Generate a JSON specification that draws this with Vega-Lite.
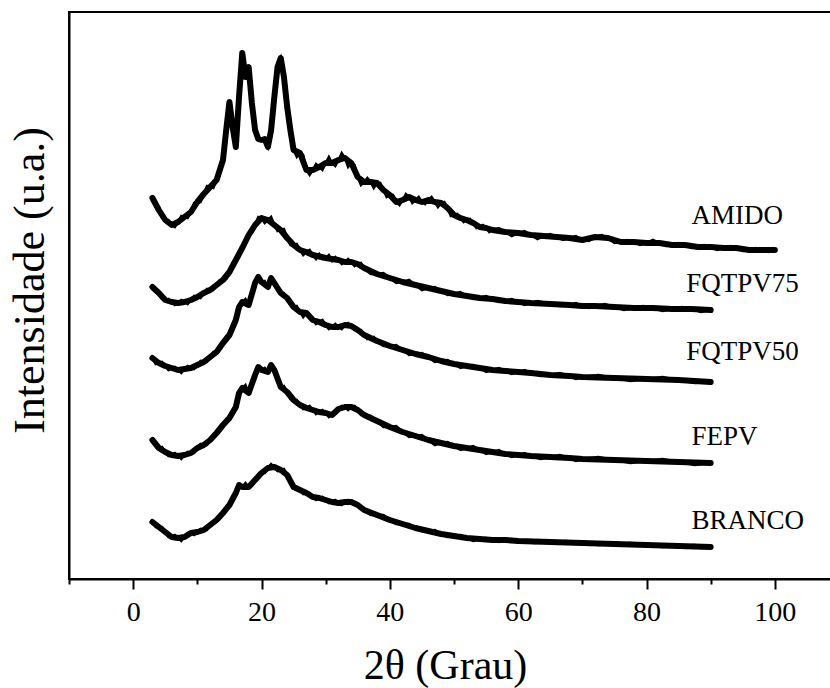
{
  "$schema": "https://vega.github.io/schema/vega-lite/v6.json",
  "width": 770,
  "height": 567,
  "autosize": {"type": "none"},
  "padding": {"left": 69, "top": 12, "right": 0, "bottom": 109},
  "background": "white",
  "config": {
    "view": {"stroke": "black", "strokeWidth": 2},
    "font": "'Liberation Serif', 'Times New Roman', serif"
  },
  "datasets": {
    "curves": [
      {"s":"AMIDO","x":3,"y":381},{"s":"AMIDO","x":4,"y":369},{"s":"AMIDO","x":5,"y":359},{"s":"AMIDO","x":6,"y":354},{"s":"AMIDO","x":7,"y":357},{"s":"AMIDO","x":8,"y":362},{"s":"AMIDO","x":9,"y":367},{"s":"AMIDO","x":10,"y":377},{"s":"AMIDO","x":11,"y":385},{"s":"AMIDO","x":12,"y":392},{"s":"AMIDO","x":13,"y":399},{"s":"AMIDO","x":14,"y":419},{"s":"AMIDO","x":14.5,"y":449},{"s":"AMIDO","x":15,"y":477},{"s":"AMIDO","x":15.5,"y":452},{"s":"AMIDO","x":16,"y":432},{"s":"AMIDO","x":16.5,"y":482},{"s":"AMIDO","x":17,"y":526},{"s":"AMIDO","x":17.5,"y":502},{"s":"AMIDO","x":18,"y":512},{"s":"AMIDO","x":18.5,"y":476},{"s":"AMIDO","x":19,"y":449},{"s":"AMIDO","x":19.5,"y":440},{"s":"AMIDO","x":20,"y":439},{"s":"AMIDO","x":20.5,"y":440},{"s":"AMIDO","x":21,"y":432},{"s":"AMIDO","x":21.5,"y":449},{"s":"AMIDO","x":22,"y":482},{"s":"AMIDO","x":22.5,"y":512},{"s":"AMIDO","x":23,"y":521},{"s":"AMIDO","x":23.5,"y":502},{"s":"AMIDO","x":24,"y":472},{"s":"AMIDO","x":24.5,"y":449},{"s":"AMIDO","x":25,"y":429},{"s":"AMIDO","x":26,"y":426},{"s":"AMIDO","x":27,"y":409},{"s":"AMIDO","x":28,"y":409},{"s":"AMIDO","x":29,"y":412},{"s":"AMIDO","x":30,"y":416},{"s":"AMIDO","x":31,"y":416},{"s":"AMIDO","x":32,"y":419},{"s":"AMIDO","x":33,"y":421},{"s":"AMIDO","x":34,"y":416},{"s":"AMIDO","x":35,"y":402},{"s":"AMIDO","x":36,"y":397},{"s":"AMIDO","x":37,"y":397},{"s":"AMIDO","x":38,"y":396},{"s":"AMIDO","x":39,"y":389},{"s":"AMIDO","x":40,"y":384},{"s":"AMIDO","x":41,"y":377},{"s":"AMIDO","x":42,"y":379},{"s":"AMIDO","x":43,"y":382},{"s":"AMIDO","x":44,"y":379},{"s":"AMIDO","x":45,"y":377},{"s":"AMIDO","x":46,"y":379},{"s":"AMIDO","x":47,"y":377},{"s":"AMIDO","x":48,"y":376},{"s":"AMIDO","x":49,"y":371},{"s":"AMIDO","x":50,"y":364},{"s":"AMIDO","x":51,"y":361},{"s":"AMIDO","x":52,"y":359},{"s":"AMIDO","x":53,"y":356},{"s":"AMIDO","x":54,"y":352},{"s":"AMIDO","x":55,"y":351},{"s":"AMIDO","x":56,"y":349},{"s":"AMIDO","x":58,"y":347},{"s":"AMIDO","x":60,"y":346},{"s":"AMIDO","x":62,"y":344},{"s":"AMIDO","x":64,"y":343},{"s":"AMIDO","x":66,"y":342},{"s":"AMIDO","x":68,"y":341},{"s":"AMIDO","x":70,"y":339},{"s":"AMIDO","x":72,"y":342},{"s":"AMIDO","x":74,"y":341},{"s":"AMIDO","x":76,"y":337},{"s":"AMIDO","x":78,"y":337},{"s":"AMIDO","x":80,"y":336},{"s":"AMIDO","x":82,"y":336},{"s":"AMIDO","x":84,"y":334},{"s":"AMIDO","x":86,"y":334},{"s":"AMIDO","x":88,"y":332},{"s":"AMIDO","x":90,"y":332},{"s":"AMIDO","x":92,"y":331},{"s":"AMIDO","x":94,"y":331},{"s":"AMIDO","x":96,"y":329},{"s":"AMIDO","x":98,"y":329},{"s":"AMIDO","x":100,"y":329},
      {"s":"AMIDO","j":1,"x":3.5,"y":378},{"s":"AMIDO","j":1,"x":4.5,"y":361},{"s":"AMIDO","j":1,"x":5.5,"y":359},{"s":"AMIDO","j":1,"x":6.5,"y":352},{"s":"AMIDO","j":1,"x":7.5,"y":363},{"s":"AMIDO","j":1,"x":8.5,"y":361},{"s":"AMIDO","j":1,"x":9.5,"y":376},{"s":"AMIDO","j":1,"x":10.5,"y":377},{"s":"AMIDO","j":1,"x":11.5,"y":393},{"s":"AMIDO","j":1,"x":12.5,"y":391},{"s":"AMIDO","j":1,"x":13.5,"y":413},{"s":"AMIDO","j":1,"x":25.5,"y":422},{"s":"AMIDO","j":1,"x":26.5,"y":424},{"s":"AMIDO","j":1,"x":27.5,"y":404},{"s":"AMIDO","j":1,"x":28.5,"y":415},{"s":"AMIDO","j":1,"x":29.5,"y":409},{"s":"AMIDO","j":1,"x":30.5,"y":422},{"s":"AMIDO","j":1,"x":31.5,"y":413},{"s":"AMIDO","j":1,"x":32.5,"y":426},{"s":"AMIDO","j":1,"x":33.5,"y":412},{"s":"AMIDO","j":1,"x":34.5,"y":414},{"s":"AMIDO","j":1,"x":35.5,"y":394},{"s":"AMIDO","j":1,"x":36.5,"y":401},{"s":"AMIDO","j":1,"x":37.5,"y":391},{"s":"AMIDO","j":1,"x":38.5,"y":396},{"s":"AMIDO","j":1,"x":39.5,"y":382},{"s":"AMIDO","j":1,"x":40.5,"y":384},{"s":"AMIDO","j":1,"x":41.5,"y":374},{"s":"AMIDO","j":1,"x":42.5,"y":385},{"s":"AMIDO","j":1,"x":43.5,"y":376},{"s":"AMIDO","j":1,"x":44.5,"y":382},{"s":"AMIDO","j":1,"x":45.5,"y":375},{"s":"AMIDO","j":1,"x":46.5,"y":382},{"s":"AMIDO","j":1,"x":47.5,"y":372},{"s":"AMIDO","j":1,"x":48.5,"y":377},{"s":"AMIDO","j":1,"x":49.5,"y":363},{"s":"AMIDO","j":1,"x":50.5,"y":365},{"s":"AMIDO","j":1,"x":51.5,"y":357},{"s":"AMIDO","j":1,"x":52.5,"y":360},{"s":"AMIDO","j":1,"x":53.5,"y":351},{"s":"AMIDO","j":1,"x":54.5,"y":354},{"s":"AMIDO","j":1,"x":55.5,"y":347},{"s":"AMIDO","j":1,"x":57,"y":351},{"s":"AMIDO","j":1,"x":59,"y":343},{"s":"AMIDO","j":1,"x":61,"y":348},{"s":"AMIDO","j":1,"x":63,"y":340},{"s":"AMIDO","j":1,"x":65,"y":345},{"s":"AMIDO","j":1,"x":67,"y":339},{"s":"AMIDO","j":1,"x":69,"y":343},{"s":"AMIDO","j":1,"x":71,"y":338},{"s":"AMIDO","j":1,"x":73,"y":344},{"s":"AMIDO","j":1,"x":75,"y":336},{"s":"AMIDO","j":1,"x":77,"y":339},{"s":"AMIDO","j":1,"x":79,"y":334},{"s":"AMIDO","j":1,"x":81,"y":339},{"s":"AMIDO","j":1,"x":83,"y":333},{"s":"AMIDO","j":1,"x":85,"y":336},{"s":"AMIDO","j":1,"x":87,"y":331},{"s":"AMIDO","j":1,"x":89,"y":334},{"s":"AMIDO","j":1,"x":91,"y":329},{"s":"AMIDO","j":1,"x":93,"y":333},{"s":"AMIDO","j":1,"x":95,"y":328},{"s":"AMIDO","j":1,"x":97,"y":331},{"s":"AMIDO","j":1,"x":99,"y":327},

      {"s":"FQTPV75","x":3,"y":292},{"s":"FQTPV75","x":4,"y":286},{"s":"FQTPV75","x":5,"y":279},{"s":"FQTPV75","x":6,"y":277},{"s":"FQTPV75","x":7,"y":276},{"s":"FQTPV75","x":8,"y":277},{"s":"FQTPV75","x":9,"y":279},{"s":"FQTPV75","x":10,"y":282},{"s":"FQTPV75","x":11,"y":286},{"s":"FQTPV75","x":12,"y":289},{"s":"FQTPV75","x":13,"y":294},{"s":"FQTPV75","x":14,"y":299},{"s":"FQTPV75","x":15,"y":307},{"s":"FQTPV75","x":16,"y":319},{"s":"FQTPV75","x":17,"y":331},{"s":"FQTPV75","x":18,"y":344},{"s":"FQTPV75","x":19,"y":354},{"s":"FQTPV75","x":20,"y":361},{"s":"FQTPV75","x":21,"y":359},{"s":"FQTPV75","x":22,"y":354},{"s":"FQTPV75","x":23,"y":349},{"s":"FQTPV75","x":24,"y":341},{"s":"FQTPV75","x":25,"y":334},{"s":"FQTPV75","x":26,"y":329},{"s":"FQTPV75","x":27,"y":327},{"s":"FQTPV75","x":28,"y":324},{"s":"FQTPV75","x":30,"y":321},{"s":"FQTPV75","x":32,"y":319},{"s":"FQTPV75","x":33,"y":317},{"s":"FQTPV75","x":34,"y":317},{"s":"FQTPV75","x":35,"y":315},{"s":"FQTPV75","x":36,"y":311},{"s":"FQTPV75","x":38,"y":305},{"s":"FQTPV75","x":40,"y":301},{"s":"FQTPV75","x":42,"y":297},{"s":"FQTPV75","x":44,"y":294},{"s":"FQTPV75","x":46,"y":291},{"s":"FQTPV75","x":48,"y":288},{"s":"FQTPV75","x":50,"y":285},{"s":"FQTPV75","x":52,"y":283},{"s":"FQTPV75","x":54,"y":281},{"s":"FQTPV75","x":56,"y":280},{"s":"FQTPV75","x":58,"y":278},{"s":"FQTPV75","x":60,"y":277},{"s":"FQTPV75","x":62,"y":276},{"s":"FQTPV75","x":65,"y":275},{"s":"FQTPV75","x":68,"y":274},{"s":"FQTPV75","x":70,"y":273},{"s":"FQTPV75","x":72,"y":273},{"s":"FQTPV75","x":75,"y":272},{"s":"FQTPV75","x":78,"y":271},{"s":"FQTPV75","x":81,"y":271},{"s":"FQTPV75","x":84,"y":270},{"s":"FQTPV75","x":87,"y":270},{"s":"FQTPV75","x":90,"y":269},
      {"s":"FQTPV75","j":1,"x":3.5,"y":291},{"s":"FQTPV75","j":1,"x":4.5,"y":280},{"s":"FQTPV75","j":1,"x":5.5,"y":280},{"s":"FQTPV75","j":1,"x":6.5,"y":274},{"s":"FQTPV75","j":1,"x":7.5,"y":279},{"s":"FQTPV75","j":1,"x":8.5,"y":275},{"s":"FQTPV75","j":1,"x":9.5,"y":283},{"s":"FQTPV75","j":1,"x":10.5,"y":281},{"s":"FQTPV75","j":1,"x":11.5,"y":290},{"s":"FQTPV75","j":1,"x":12.5,"y":289},{"s":"FQTPV75","j":1,"x":13.5,"y":299},{"s":"FQTPV75","j":1,"x":14.5,"y":300},{"s":"FQTPV75","j":1,"x":15.5,"y":316},{"s":"FQTPV75","j":1,"x":16.5,"y":322},{"s":"FQTPV75","j":1,"x":17.5,"y":340},{"s":"FQTPV75","j":1,"x":18.5,"y":347},{"s":"FQTPV75","j":1,"x":19.5,"y":362},{"s":"FQTPV75","j":1,"x":20.5,"y":356},{"s":"FQTPV75","j":1,"x":21.5,"y":362},{"s":"FQTPV75","j":1,"x":22.5,"y":348},{"s":"FQTPV75","j":1,"x":23.5,"y":350},{"s":"FQTPV75","j":1,"x":24.5,"y":334},{"s":"FQTPV75","j":1,"x":25.5,"y":335},{"s":"FQTPV75","j":1,"x":26.5,"y":324},{"s":"FQTPV75","j":1,"x":27.5,"y":329},{"s":"FQTPV75","j":1,"x":28.5,"y":320},{"s":"FQTPV75","j":1,"x":29,"y":325},{"s":"FQTPV75","j":1,"x":29.5,"y":320},{"s":"FQTPV75","j":1,"x":30.5,"y":324},{"s":"FQTPV75","j":1,"x":31,"y":318},{"s":"FQTPV75","j":1,"x":31.5,"y":322},{"s":"FQTPV75","j":1,"x":32.5,"y":315},{"s":"FQTPV75","j":1,"x":33.5,"y":320},{"s":"FQTPV75","j":1,"x":34.5,"y":313},{"s":"FQTPV75","j":1,"x":35.5,"y":316},{"s":"FQTPV75","j":1,"x":37,"y":305},{"s":"FQTPV75","j":1,"x":39,"y":306},{"s":"FQTPV75","j":1,"x":41,"y":296},{"s":"FQTPV75","j":1,"x":43,"y":299},{"s":"FQTPV75","j":1,"x":45,"y":289},{"s":"FQTPV75","j":1,"x":47,"y":292},{"s":"FQTPV75","j":1,"x":49,"y":284},{"s":"FQTPV75","j":1,"x":51,"y":287},{"s":"FQTPV75","j":1,"x":53,"y":280},{"s":"FQTPV75","j":1,"x":55,"y":283},{"s":"FQTPV75","j":1,"x":57,"y":277},{"s":"FQTPV75","j":1,"x":59,"y":280},{"s":"FQTPV75","j":1,"x":61,"y":274},{"s":"FQTPV75","j":1,"x":63,"y":278},{"s":"FQTPV75","j":1,"x":66.5,"y":273},{"s":"FQTPV75","j":1,"x":69,"y":276},{"s":"FQTPV75","j":1,"x":71,"y":271},{"s":"FQTPV75","j":1,"x":73.5,"y":275},{"s":"FQTPV75","j":1,"x":76.5,"y":269},{"s":"FQTPV75","j":1,"x":79.5,"y":273},{"s":"FQTPV75","j":1,"x":82.5,"y":268},{"s":"FQTPV75","j":1,"x":85.5,"y":272},{"s":"FQTPV75","j":1,"x":88.5,"y":267},

      {"s":"FQTPV50","x":3,"y":221},{"s":"FQTPV50","x":4,"y":216},{"s":"FQTPV50","x":5,"y":213},{"s":"FQTPV50","x":6,"y":211},{"s":"FQTPV50","x":7,"y":209},{"s":"FQTPV50","x":8,"y":210},{"s":"FQTPV50","x":9,"y":211},{"s":"FQTPV50","x":10,"y":214},{"s":"FQTPV50","x":11,"y":217},{"s":"FQTPV50","x":12,"y":222},{"s":"FQTPV50","x":13,"y":227},{"s":"FQTPV50","x":14,"y":236},{"s":"FQTPV50","x":15,"y":244},{"s":"FQTPV50","x":16,"y":259},{"s":"FQTPV50","x":16.5,"y":272},{"s":"FQTPV50","x":17,"y":277},{"s":"FQTPV50","x":18,"y":274},{"s":"FQTPV50","x":19,"y":296},{"s":"FQTPV50","x":19.5,"y":302},{"s":"FQTPV50","x":20,"y":297},{"s":"FQTPV50","x":21,"y":292},{"s":"FQTPV50","x":21.5,"y":301},{"s":"FQTPV50","x":22,"y":296},{"s":"FQTPV50","x":23,"y":286},{"s":"FQTPV50","x":24,"y":281},{"s":"FQTPV50","x":25,"y":272},{"s":"FQTPV50","x":26,"y":267},{"s":"FQTPV50","x":27,"y":266},{"s":"FQTPV50","x":28,"y":259},{"s":"FQTPV50","x":29,"y":257},{"s":"FQTPV50","x":30,"y":254},{"s":"FQTPV50","x":31,"y":252},{"s":"FQTPV50","x":32,"y":252},{"s":"FQTPV50","x":33,"y":254},{"s":"FQTPV50","x":34,"y":253},{"s":"FQTPV50","x":35,"y":249},{"s":"FQTPV50","x":36,"y":244},{"s":"FQTPV50","x":37,"y":241},{"s":"FQTPV50","x":38,"y":238},{"s":"FQTPV50","x":40,"y":233},{"s":"FQTPV50","x":42,"y":229},{"s":"FQTPV50","x":44,"y":225},{"s":"FQTPV50","x":46,"y":222},{"s":"FQTPV50","x":48,"y":218},{"s":"FQTPV50","x":50,"y":215},{"s":"FQTPV50","x":52,"y":213},{"s":"FQTPV50","x":54,"y":211},{"s":"FQTPV50","x":56,"y":209},{"s":"FQTPV50","x":58,"y":208},{"s":"FQTPV50","x":60,"y":207},{"s":"FQTPV50","x":62,"y":206},{"s":"FQTPV50","x":65,"y":204},{"s":"FQTPV50","x":68,"y":203},{"s":"FQTPV50","x":70,"y":202},{"s":"FQTPV50","x":75,"y":201},{"s":"FQTPV50","x":80,"y":200},{"s":"FQTPV50","x":85,"y":199},{"s":"FQTPV50","x":90,"y":197},
      {"s":"FQTPV50","j":1,"x":3.5,"y":215},{"s":"FQTPV50","j":1,"x":4.5,"y":217},{"s":"FQTPV50","j":1,"x":5.5,"y":209},{"s":"FQTPV50","j":1,"x":6.5,"y":212},{"s":"FQTPV50","j":1,"x":7.5,"y":206},{"s":"FQTPV50","j":1,"x":8.5,"y":213},{"s":"FQTPV50","j":1,"x":9.5,"y":210},{"s":"FQTPV50","j":1,"x":10.5,"y":218},{"s":"FQTPV50","j":1,"x":11.5,"y":217},{"s":"FQTPV50","j":1,"x":12.5,"y":227},{"s":"FQTPV50","j":1,"x":13.5,"y":229},{"s":"FQTPV50","j":1,"x":14.5,"y":243},{"s":"FQTPV50","j":1,"x":15.5,"y":248},{"s":"FQTPV50","j":1,"x":17.5,"y":280},{"s":"FQTPV50","j":1,"x":18.5,"y":283},{"s":"FQTPV50","j":1,"x":20.5,"y":298},{"s":"FQTPV50","j":1,"x":22.5,"y":288},{"s":"FQTPV50","j":1,"x":23.5,"y":286},{"s":"FQTPV50","j":1,"x":24.5,"y":274},{"s":"FQTPV50","j":1,"x":25.5,"y":273},{"s":"FQTPV50","j":1,"x":26.5,"y":262},{"s":"FQTPV50","j":1,"x":27.5,"y":265},{"s":"FQTPV50","j":1,"x":28.5,"y":255},{"s":"FQTPV50","j":1,"x":29.5,"y":259},{"s":"FQTPV50","j":1,"x":30.5,"y":250},{"s":"FQTPV50","j":1,"x":31.5,"y":255},{"s":"FQTPV50","j":1,"x":32.5,"y":250},{"s":"FQTPV50","j":1,"x":33.5,"y":256},{"s":"FQTPV50","j":1,"x":34.5,"y":249},{"s":"FQTPV50","j":1,"x":35.5,"y":249},{"s":"FQTPV50","j":1,"x":36.5,"y":240},{"s":"FQTPV50","j":1,"x":37.5,"y":242},{"s":"FQTPV50","j":1,"x":39,"y":233},{"s":"FQTPV50","j":1,"x":41,"y":234},{"s":"FQTPV50","j":1,"x":43,"y":224},{"s":"FQTPV50","j":1,"x":45,"y":226},{"s":"FQTPV50","j":1,"x":47,"y":217},{"s":"FQTPV50","j":1,"x":49,"y":219},{"s":"FQTPV50","j":1,"x":51,"y":211},{"s":"FQTPV50","j":1,"x":53,"y":214},{"s":"FQTPV50","j":1,"x":55,"y":207},{"s":"FQTPV50","j":1,"x":57,"y":211},{"s":"FQTPV50","j":1,"x":59,"y":205},{"s":"FQTPV50","j":1,"x":61,"y":209},{"s":"FQTPV50","j":1,"x":63.5,"y":203},{"s":"FQTPV50","j":1,"x":66.5,"y":206},{"s":"FQTPV50","j":1,"x":69,"y":200},{"s":"FQTPV50","j":1,"x":72.5,"y":204},{"s":"FQTPV50","j":1,"x":77.5,"y":198},{"s":"FQTPV50","j":1,"x":82.5,"y":202},{"s":"FQTPV50","j":1,"x":87.5,"y":196},

      {"s":"FEPV","x":3,"y":139},{"s":"FEPV","x":4,"y":131},{"s":"FEPV","x":5,"y":127},{"s":"FEPV","x":6,"y":124},{"s":"FEPV","x":7,"y":123},{"s":"FEPV","x":8,"y":124},{"s":"FEPV","x":9,"y":126},{"s":"FEPV","x":10,"y":131},{"s":"FEPV","x":11,"y":134},{"s":"FEPV","x":12,"y":139},{"s":"FEPV","x":13,"y":146},{"s":"FEPV","x":14,"y":154},{"s":"FEPV","x":15,"y":161},{"s":"FEPV","x":16,"y":172},{"s":"FEPV","x":16.5,"y":186},{"s":"FEPV","x":17,"y":191},{"s":"FEPV","x":18,"y":186},{"s":"FEPV","x":19,"y":204},{"s":"FEPV","x":19.5,"y":212},{"s":"FEPV","x":20,"y":209},{"s":"FEPV","x":21,"y":207},{"s":"FEPV","x":21.5,"y":214},{"s":"FEPV","x":22,"y":209},{"s":"FEPV","x":23,"y":192},{"s":"FEPV","x":24,"y":187},{"s":"FEPV","x":25,"y":179},{"s":"FEPV","x":26,"y":174},{"s":"FEPV","x":27,"y":171},{"s":"FEPV","x":28,"y":169},{"s":"FEPV","x":29,"y":167},{"s":"FEPV","x":30,"y":166},{"s":"FEPV","x":31,"y":164},{"s":"FEPV","x":32,"y":170},{"s":"FEPV","x":33,"y":172},{"s":"FEPV","x":34,"y":172},{"s":"FEPV","x":35,"y":169},{"s":"FEPV","x":36,"y":164},{"s":"FEPV","x":38,"y":158},{"s":"FEPV","x":40,"y":152},{"s":"FEPV","x":42,"y":147},{"s":"FEPV","x":44,"y":143},{"s":"FEPV","x":46,"y":139},{"s":"FEPV","x":48,"y":136},{"s":"FEPV","x":50,"y":133},{"s":"FEPV","x":52,"y":131},{"s":"FEPV","x":54,"y":129},{"s":"FEPV","x":56,"y":127},{"s":"FEPV","x":58,"y":125},{"s":"FEPV","x":60,"y":124},{"s":"FEPV","x":62,"y":123},{"s":"FEPV","x":65,"y":122},{"s":"FEPV","x":68,"y":121},{"s":"FEPV","x":70,"y":120},{"s":"FEPV","x":75,"y":119},{"s":"FEPV","x":80,"y":118},{"s":"FEPV","x":85,"y":117},{"s":"FEPV","x":90,"y":116},
      {"s":"FEPV","j":1,"x":3.5,"y":133},{"s":"FEPV","j":1,"x":4.5,"y":132},{"s":"FEPV","j":1,"x":5.5,"y":123},{"s":"FEPV","j":1,"x":6.5,"y":126},{"s":"FEPV","j":1,"x":7.5,"y":120},{"s":"FEPV","j":1,"x":8.5,"y":127},{"s":"FEPV","j":1,"x":9.5,"y":126},{"s":"FEPV","j":1,"x":10.5,"y":135},{"s":"FEPV","j":1,"x":11.5,"y":134},{"s":"FEPV","j":1,"x":12.5,"y":145},{"s":"FEPV","j":1,"x":13.5,"y":148},{"s":"FEPV","j":1,"x":14.5,"y":160},{"s":"FEPV","j":1,"x":15.5,"y":164},{"s":"FEPV","j":1,"x":17.5,"y":194},{"s":"FEPV","j":1,"x":18.5,"y":192},{"s":"FEPV","j":1,"x":20.5,"y":211},{"s":"FEPV","j":1,"x":22.5,"y":203},{"s":"FEPV","j":1,"x":23.5,"y":193},{"s":"FEPV","j":1,"x":24.5,"y":180},{"s":"FEPV","j":1,"x":25.5,"y":179},{"s":"FEPV","j":1,"x":26.5,"y":170},{"s":"FEPV","j":1,"x":27.5,"y":173},{"s":"FEPV","j":1,"x":28.5,"y":165},{"s":"FEPV","j":1,"x":29.5,"y":169},{"s":"FEPV","j":1,"x":30.5,"y":162},{"s":"FEPV","j":1,"x":31.5,"y":169},{"s":"FEPV","j":1,"x":32.5,"y":173},{"s":"FEPV","j":1,"x":33.5,"y":169},{"s":"FEPV","j":1,"x":34.5,"y":173},{"s":"FEPV","j":1,"x":35.5,"y":164},{"s":"FEPV","j":1,"x":37,"y":163},{"s":"FEPV","j":1,"x":39,"y":152},{"s":"FEPV","j":1,"x":41,"y":153},{"s":"FEPV","j":1,"x":43,"y":142},{"s":"FEPV","j":1,"x":45,"y":144},{"s":"FEPV","j":1,"x":47,"y":134},{"s":"FEPV","j":1,"x":49,"y":137},{"s":"FEPV","j":1,"x":51,"y":129},{"s":"FEPV","j":1,"x":53,"y":133},{"s":"FEPV","j":1,"x":55,"y":125},{"s":"FEPV","j":1,"x":57,"y":129},{"s":"FEPV","j":1,"x":59,"y":122},{"s":"FEPV","j":1,"x":61,"y":126},{"s":"FEPV","j":1,"x":63.5,"y":120},{"s":"FEPV","j":1,"x":66.5,"y":124},{"s":"FEPV","j":1,"x":69,"y":118},{"s":"FEPV","j":1,"x":72.5,"y":122},{"s":"FEPV","j":1,"x":77.5,"y":116},{"s":"FEPV","j":1,"x":82.5,"y":120},{"s":"FEPV","j":1,"x":87.5,"y":114},

      {"s":"BRANCO","x":3,"y":57},{"s":"BRANCO","x":4,"y":52},{"s":"BRANCO","x":5,"y":47},{"s":"BRANCO","x":6,"y":42},{"s":"BRANCO","x":7,"y":41},{"s":"BRANCO","x":8,"y":42},{"s":"BRANCO","x":9,"y":46},{"s":"BRANCO","x":10,"y":47},{"s":"BRANCO","x":11,"y":49},{"s":"BRANCO","x":12,"y":54},{"s":"BRANCO","x":13,"y":59},{"s":"BRANCO","x":14,"y":66},{"s":"BRANCO","x":15,"y":74},{"s":"BRANCO","x":16,"y":86},{"s":"BRANCO","x":16.5,"y":94},{"s":"BRANCO","x":17,"y":92},{"s":"BRANCO","x":18,"y":92},{"s":"BRANCO","x":19,"y":99},{"s":"BRANCO","x":20,"y":106},{"s":"BRANCO","x":21,"y":111},{"s":"BRANCO","x":22,"y":112},{"s":"BRANCO","x":23,"y":109},{"s":"BRANCO","x":24,"y":104},{"s":"BRANCO","x":25,"y":92},{"s":"BRANCO","x":26,"y":89},{"s":"BRANCO","x":27,"y":86},{"s":"BRANCO","x":28,"y":82},{"s":"BRANCO","x":29,"y":81},{"s":"BRANCO","x":30,"y":79},{"s":"BRANCO","x":31,"y":77},{"s":"BRANCO","x":32,"y":76},{"s":"BRANCO","x":33,"y":77},{"s":"BRANCO","x":34,"y":77},{"s":"BRANCO","x":35,"y":74},{"s":"BRANCO","x":36,"y":69},{"s":"BRANCO","x":38,"y":64},{"s":"BRANCO","x":40,"y":59},{"s":"BRANCO","x":42,"y":55},{"s":"BRANCO","x":44,"y":51},{"s":"BRANCO","x":46,"y":48},{"s":"BRANCO","x":48,"y":45},{"s":"BRANCO","x":50,"y":43},{"s":"BRANCO","x":52,"y":41},{"s":"BRANCO","x":54,"y":40},{"s":"BRANCO","x":56,"y":39},{"s":"BRANCO","x":58,"y":39},{"s":"BRANCO","x":60,"y":38},{"s":"BRANCO","x":65,"y":37},{"s":"BRANCO","x":70,"y":36},{"s":"BRANCO","x":75,"y":35},{"s":"BRANCO","x":80,"y":34},{"s":"BRANCO","x":85,"y":33},{"s":"BRANCO","x":90,"y":32},
      {"s":"BRANCO","j":1,"x":3.5,"y":52},{"s":"BRANCO","j":1,"x":4.5,"y":52},{"s":"BRANCO","j":1,"x":5.5,"y":42},{"s":"BRANCO","j":1,"x":6.5,"y":44},{"s":"BRANCO","j":1,"x":7.5,"y":38},{"s":"BRANCO","j":1,"x":8.5,"y":46},{"s":"BRANCO","j":1,"x":9.5,"y":44},{"s":"BRANCO","j":1,"x":10.5,"y":50},{"s":"BRANCO","j":1,"x":11.5,"y":49},{"s":"BRANCO","j":1,"x":12.5,"y":58},{"s":"BRANCO","j":1,"x":13.5,"y":60},{"s":"BRANCO","j":1,"x":14.5,"y":72},{"s":"BRANCO","j":1,"x":15.5,"y":78},{"s":"BRANCO","j":1,"x":17.5,"y":96},{"s":"BRANCO","j":1,"x":18.5,"y":93},{"s":"BRANCO","j":1,"x":19.5,"y":105},{"s":"BRANCO","j":1,"x":20.5,"y":106},{"s":"BRANCO","j":1,"x":21.5,"y":115},{"s":"BRANCO","j":1,"x":22.5,"y":108},{"s":"BRANCO","j":1,"x":23.5,"y":110},{"s":"BRANCO","j":1,"x":24.5,"y":96},{"s":"BRANCO","j":1,"x":25.5,"y":92},{"s":"BRANCO","j":1,"x":26.5,"y":85},{"s":"BRANCO","j":1,"x":27.5,"y":86},{"s":"BRANCO","j":1,"x":28.5,"y":79},{"s":"BRANCO","j":1,"x":29.5,"y":82},{"s":"BRANCO","j":1,"x":30.5,"y":76},{"s":"BRANCO","j":1,"x":31.5,"y":79},{"s":"BRANCO","j":1,"x":32.5,"y":74},{"s":"BRANCO","j":1,"x":33.5,"y":79},{"s":"BRANCO","j":1,"x":34.5,"y":74},{"s":"BRANCO","j":1,"x":35.5,"y":73},{"s":"BRANCO","j":1,"x":37,"y":64},{"s":"BRANCO","j":1,"x":39,"y":64},{"s":"BRANCO","j":1,"x":41,"y":55},{"s":"BRANCO","j":1,"x":43,"y":55},{"s":"BRANCO","j":1,"x":45,"y":48},{"s":"BRANCO","j":1,"x":47,"y":49},{"s":"BRANCO","j":1,"x":49,"y":42},{"s":"BRANCO","j":1,"x":51,"y":44},{"s":"BRANCO","j":1,"x":53,"y":38},{"s":"BRANCO","j":1,"x":55,"y":41},{"s":"BRANCO","j":1,"x":57,"y":37},{"s":"BRANCO","j":1,"x":59,"y":40},{"s":"BRANCO","j":1,"x":62.5,"y":36},{"s":"BRANCO","j":1,"x":67.5,"y":38},{"s":"BRANCO","j":1,"x":72.5,"y":34},{"s":"BRANCO","j":1,"x":77.5,"y":36},{"s":"BRANCO","j":1,"x":82.5,"y":32},{"s":"BRANCO","j":1,"x":87.5,"y":34}
    ],
    "labels": [
      {"label":"AMIDO","x":87,"y":363},
      {"label":"FQTPV75","x":86.2,"y":295},
      {"label":"FQTPV50","x":86.2,"y":227},
      {"label":"FEPV","x":87,"y":142},
      {"label":"BRANCO","x":87,"y":58}
    ]
  },
  "encoding": {
    "x": {
      "field": "x", "type": "quantitative",
      "scale": {"domain": [-10, 110], "nice": false, "zero": false},
      "axis": {
        "values": [-10, 0, 10, 20, 30, 40, 50, 60, 70, 80, 90, 100, 110],
        "labelExpr": "datum.value % 20 === 0 ? datum.value : ''",
        "tickSize": {"condition": {"test": "datum.value % 20 === 0", "value": 10}, "value": 5},
        "tickColor": "black", "tickWidth": 2,
        "domainColor": "black", "domainWidth": 2,
        "labelFont": "'Liberation Serif', 'Times New Roman', serif", "labelFontSize": 28, "labelColor": "black",
        "labelPadding": 9, "labelFlush": false,
        "grid": false,
        "title": "2θ (Grau)",
        "titleFont": "'Liberation Serif', 'Times New Roman', serif", "titleFontSize": 42, "titleFontWeight": "normal", "titleColor": "black",
        "titlePadding": 19, "titleX": 376
      }
    },
    "y": {
      "field": "y", "type": "quantitative",
      "scale": {"domain": [0, 567], "nice": false},
      "axis": {
        "ticks": false, "labels": false, "grid": false,
        "domainColor": "black", "domainWidth": 2,
        "title": "Intensidade (u.a.)",
        "titleFont": "'Liberation Serif', 'Times New Roman', serif", "titleFontSize": 44, "titleFontWeight": "normal", "titleColor": "black",
        "titlePadding": 17, "titleY": 268
      }
    }
  },
  "layer": [
    {
      "data": {"name": "curves"},
      "transform": [{"filter": "!datum.j"}],
      "mark": {"type": "line", "stroke": "black", "strokeWidth": 6, "strokeJoin": "round", "strokeCap": "round", "clip": true},
      "encoding": {"detail": {"field": "s", "type": "nominal"}}
    },
    {
      "data": {"name": "curves"},
      "mark": {"type": "line", "stroke": "black", "strokeWidth": 2.5, "strokeJoin": "miter", "strokeCap": "butt", "clip": true},
      "encoding": {"detail": {"field": "s", "type": "nominal"}}
    },
    {
      "data": {"name": "labels"},
      "mark": {"type": "text", "align": "left", "baseline": "middle", "font": "'Liberation Serif', 'Times New Roman', serif", "fontSize": 27, "color": "black"},
      "encoding": {
        "text": {"field": "label"}
      }
    }
  ]
}
